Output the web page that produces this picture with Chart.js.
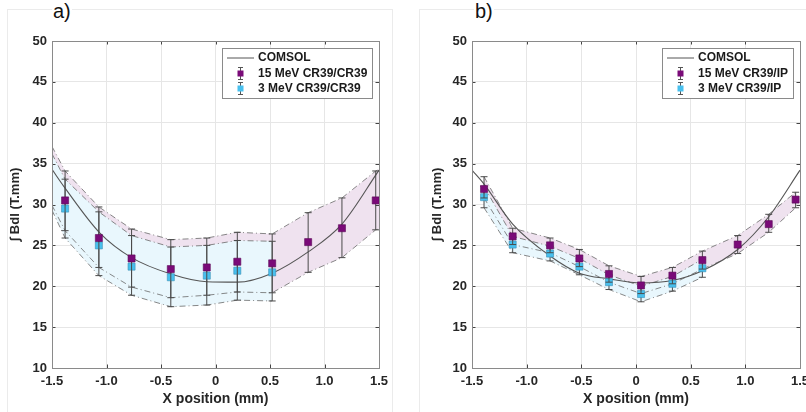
<!DOCTYPE html>
<html>
<head>
<meta charset="utf-8">
<script src="https://cdn.jsdelivr.net/npm/chart.js@4.4.0/dist/chart.umd.min.js"></script>
<style>
  body { margin: 0; background: #fff; }
  #wrap { position: relative; width: 806px; height: 412px; overflow: hidden; font-family: "Liberation Sans", Arial, sans-serif; }
  .frame { position: absolute; top: 9px; height: 420px; border: 1px solid #ebebeb; }
  .panel { position: absolute; top: 0; width: 403px; height: 412px; }
  .tag { position: absolute; top: 0; font-size: 20px; line-height: 22px; background: #fff; color: #111; padding: 0 1px; }
</style>
</head>
<body>
<div id="wrap">
  <div class="frame" style="left:7px;width:384px"></div>
  <div class="frame" style="left:419px;width:400px"></div>
  <div class="panel" style="left:0"><canvas id="chartA" width="403" height="412"></canvas></div>
  <div class="panel" style="left:403px"><canvas id="chartB" width="403" height="412"></canvas></div>
  <div class="tag" style="left:52px">a)</div>
  <div class="tag" style="left:474px">b)</div>
</div>
<script>
// ---- panel a) CR39/CR39 ----
const comsolXa = [-1.5, -1.38, -1.06, -0.77, -0.41, -0.08, 0.2, 0.52, 0.85, 1.16, 1.5];
const comsolYa = [34.3, 32.0, 26.5, 23.5, 21.5, 20.55, 20.5, 21.6, 24.2, 27.6, 34.2];

const x15a  = [-1.38, -1.07, -0.77, -0.41, -0.08, 0.2, 0.52, 0.85, 1.16, 1.47];
const y15a  = [30.5, 25.9, 23.4, 22.1, 22.3, 23.0, 22.8, 25.4, 27.1, 30.5];
const lo15a = [26.8, 22.3, 19.9, 18.6, 18.9, 19.3, 19.2, 21.7, 23.5, 26.9];
const hi15a = [34.1, 29.7, 27.0, 25.7, 25.9, 26.6, 26.4, 29.0, 30.8, 34.1];

const x3a  = [-1.38, -1.07, -0.77, -0.41, -0.08, 0.2, 0.52];
const y3a  = [29.5, 25.0, 22.4, 21.1, 21.3, 21.9, 21.7];
const lo3a = [25.9, 21.3, 18.9, 17.5, 17.7, 18.3, 18.2];
const hi3a = [33.1, 29.1, 26.2, 24.8, 25.0, 25.6, 25.5];

// shaded bands in a) run out to the axis limits
const bandX15a  = [-1.5, ...x15a, 1.5];
const bandLo15a = [29.9, ...lo15a, 27.0];
const bandHi15a = [37.1, ...hi15a, 34.3];
const bandX3a   = [-1.5, ...x3a];
const bandLo3a  = [29.3, ...lo3a];
const bandHi3a  = [36.2, ...hi3a];

// ---- panel b) CR39/IP ----
const comsolXb = [-1.5, -1.39, -1.128, -0.786, -0.518, -0.247, 0.046, 0.333, 0.607, 0.93, 1.214, 1.5];
const comsolYb = [34.2, 32.5, 27.6, 23.7, 21.6, 20.9, 20.4, 20.7, 21.9, 24.5, 28.5, 34.2];

const x15b  = [-1.39, -1.128, -0.786, -0.518, -0.247, 0.046, 0.333, 0.607, 0.93, 1.214, 1.46];
const y15b  = [31.9, 26.1, 25.0, 23.4, 21.5, 20.1, 21.3, 23.2, 25.1, 27.6, 30.6];
const lo15b = [30.8, 25.1, 24.1, 22.4, 20.5, 19.1, 20.3, 22.1, 24.0, 26.6, 29.6];
const hi15b = [33.4, 27.1, 25.9, 24.5, 22.5, 21.2, 22.3, 24.3, 26.2, 28.8, 31.5];

const x3b  = [-1.39, -1.128, -0.786, -0.518, -0.247, 0.046, 0.333, 0.607];
const y3b  = [30.9, 25.1, 24.0, 22.4, 20.5, 19.05, 20.3, 22.2];
const lo3b = [29.6, 24.1, 23.1, 21.4, 19.6, 18.1, 19.4, 21.1];
const hi3b = [32.2, 26.1, 24.9, 23.4, 21.4, 20.0, 21.2, 23.3];

const labelsA = ['COMSOL', '15 MeV CR39/CR39', '3 MeV CR39/CR39'];
const labelsB = ['COMSOL', '15 MeV CR39/IP', '3 MeV CR39/IP'];

const PURPLE = '#7a0a78';
const CYAN = '#48c0ee';
const FONT = '"Liberation Sans", Arial, sans-serif';
Chart.defaults.font.family = FONT;

function pts(xs, ys) {
    return xs.map((x, i) => ({ x: x, y: ys[i] }));
}

// error bars drawn just before their marker dataset
const errorBars = {
    id: 'errorBars',
    beforeDatasetDraw(chart, args) {
        const ds = chart.data.datasets[args.index];
        if (!ds.errLo) return;
        const ctx = chart.ctx, sx = chart.scales.x, sy = chart.scales.y;
        ctx.save();
        ctx.strokeStyle = '#4a4a4a';
        ctx.lineWidth = 1;
        ds.data.forEach((p, i) => {
            const px = sx.getPixelForValue(p.x);
            const t = sy.getPixelForValue(ds.errHi[i]);
            const b = sy.getPixelForValue(ds.errLo[i]);
            ctx.beginPath();
            ctx.moveTo(px, t); ctx.lineTo(px, b);
            ctx.moveTo(px - 3.5, t); ctx.lineTo(px + 3.5, t);
            ctx.moveTo(px - 3.5, b); ctx.lineTo(px + 3.5, b);
            ctx.stroke();
        });
        ctx.restore();
    }
};

// axes box, inner ticks and the boxed legend
const frameLegend = {
    id: 'frameLegend',
    afterDraw(chart, args, opts) {
        const ctx = chart.ctx, a = chart.chartArea;
        const sx = chart.scales.x, sy = chart.scales.y;
        ctx.save();
        ctx.strokeStyle = '#444';
        ctx.lineWidth = 1;
        ctx.beginPath();
        sx.ticks.forEach(t => {
            const px = Math.round(sx.getPixelForValue(t.value)) + 0.5;
            ctx.moveTo(px, a.bottom); ctx.lineTo(px, a.bottom - 3.5);
            ctx.moveTo(px, a.top); ctx.lineTo(px, a.top + 3.5);
        });
        sy.ticks.forEach(t => {
            const py = Math.round(sy.getPixelForValue(t.value)) + 0.5;
            ctx.moveTo(a.left, py); ctx.lineTo(a.left + 3.5, py);
            ctx.moveTo(a.right, py); ctx.lineTo(a.right - 3.5, py);
        });
        ctx.stroke();
        ctx.strokeStyle = '#8a8a8a';
        ctx.strokeRect(Math.round(a.left) + 0.5, Math.round(a.top) + 0.5,
            Math.round(a.right - a.left), Math.round(a.bottom - a.top));

        // legend
        ctx.font = 'bold 12px ' + FONT;
        const textW = Math.max(...opts.labels.map(s => ctx.measureText(s).width));
        const w = Math.round(36 + textW + 5), h = 50;
        const x0 = Math.round(a.right - 7 - w), y0 = Math.round(a.top + 7);
        ctx.fillStyle = '#fff';
        ctx.fillRect(x0, y0, w, h);
        ctx.strokeStyle = '#8a8a8a';
        ctx.strokeRect(x0 + 0.5, y0 + 0.5, w, h);
        const rows = [y0 + 10, y0 + 25.5, y0 + 40.5];
        ctx.strokeStyle = '#555';
        ctx.beginPath();
        ctx.moveTo(x0 + 5, rows[0]); ctx.lineTo(x0 + 32, rows[0]);
        ctx.stroke();
        [PURPLE, CYAN].forEach((c, k) => {
            const mx = x0 + 18.5, my = rows[k + 1];
            ctx.strokeStyle = '#555';
            ctx.beginPath();
            ctx.moveTo(mx, my - 6); ctx.lineTo(mx, my + 6);
            ctx.moveTo(mx - 2.5, my - 6); ctx.lineTo(mx + 2.5, my - 6);
            ctx.moveTo(mx - 2.5, my + 6); ctx.lineTo(mx + 2.5, my + 6);
            ctx.stroke();
            ctx.fillStyle = c;
            ctx.fillRect(mx - 3, my - 3, 6, 6);
        });
        ctx.fillStyle = '#1a1a1a';
        ctx.textBaseline = 'middle';
        opts.labels.forEach((s, k) => ctx.fillText(s, x0 + 36, rows[k]));
        ctx.restore();
    }
};

function bandLine(xs, ys, fill, color) {
    return {
        data: pts(xs, ys),
        showLine: true,
        borderColor: '#6a6a6a',
        borderWidth: 0.8,
        borderDash: [6, 3, 1, 3],
        pointRadius: 0,
        fill: fill,
        backgroundColor: color
    };
}

function makePanel(id, p) {
    const datasets = [
        {   // 15 MeV markers
            data: pts(p.x15, p.y15), errLo: p.lo15, errHi: p.hi15,
            pointStyle: 'rect', pointRadius: 5, backgroundColor: PURPLE,
            borderColor: '#5a0858', borderWidth: 0.6
        },
        {   // 3 MeV markers
            data: pts(p.x3, p.y3), errLo: p.lo3, errHi: p.hi3,
            pointStyle: 'rect', pointRadius: 5, backgroundColor: CYAN,
            borderColor: '#3a8fb5', borderWidth: 0.6
        },
        {   // COMSOL
            data: pts(p.cx, p.cy), showLine: true, pointRadius: 0,
            borderColor: '#555', borderWidth: 1.1, cubicInterpolationMode: 'monotone'
        },
        bandLine(p.bx3, p.bhi3, '+1', '#e9f7fd'),
        bandLine(p.bx3, p.blo3, false, '#e9f7fd'),
        bandLine(p.bx15, p.bhi15, '+1', '#efe2ef'),
        bandLine(p.bx15, p.blo15, false, '#efe2ef')
    ];

    return new Chart(document.getElementById(id), {
        type: 'scatter',
        data: { datasets: datasets },
        plugins: [errorBars, frameLegend],
        options: {
            responsive: false,
            animation: false,
            layout: { padding: { top: 41, right: p.padRight, left: 0, bottom: 0 } },
            plugins: {
                legend: { display: false },
                tooltip: { enabled: false },
                filler: { drawTime: 'beforeDatasetsDraw' },
                frameLegend: { labels: p.labels }
            },
            scales: {
                x: {
                    type: 'linear', min: -1.5, max: 1.5,
                    ticks: { stepSize: 0.5, color: '#262626', padding: 6, font: { size: 13, weight: 'bold' } },
                    grid: { color: '#e6e6e6', drawTicks: false },
                    border: { display: false },
                    title: { display: true, text: 'X position (mm)', color: '#262626',
                             padding: { top: 0, bottom: 4 }, font: { size: 14, weight: 'bold' } },
                    afterFit(s) { s.height = 44; s.paddingLeft = 0; s.paddingRight = 0; }
                },
                y: {
                    type: 'linear', min: 10, max: 50,
                    ticks: { stepSize: 5, color: '#262626', padding: 5, font: { size: 13, weight: 'bold' } },
                    grid: { color: '#e6e6e6', drawTicks: false },
                    border: { display: false },
                    title: { display: true, text: '\u222B Bdl (T.mm)', color: '#262626',
                             padding: { top: p.yTitlePad, bottom: 0 }, font: { size: 13, weight: 'bold' } },
                    afterFit(s) { s.width = p.yWidth; }
                }
            }
        }
    });
}

makePanel('chartA', {
    cx: comsolXa, cy: comsolYa,
    x15: x15a, y15: y15a, lo15: lo15a, hi15: hi15a,
    x3: x3a, y3: y3a, lo3: lo3a, hi3: hi3a,
    bx15: bandX15a, blo15: bandLo15a, bhi15: bandHi15a,
    bx3: bandX3a, blo3: bandLo3a, bhi3: bandHi3a,
    labels: labelsA, yWidth: 52, padRight: 24, yTitlePad: 8
});

makePanel('chartB', {
    cx: comsolXb, cy: comsolYb,
    x15: x15b, y15: y15b, lo15: lo15b, hi15: hi15b,
    x3: x3b, y3: y3b, lo3: lo3b, hi3: hi3b,
    bx15: x15b, blo15: lo15b, bhi15: hi15b,
    bx3: x3b, blo3: lo3b, bhi3: hi3b,
    labels: labelsB, yWidth: 69, padRight: 6, yTitlePad: 27
});
</script>
</body>
</html>
